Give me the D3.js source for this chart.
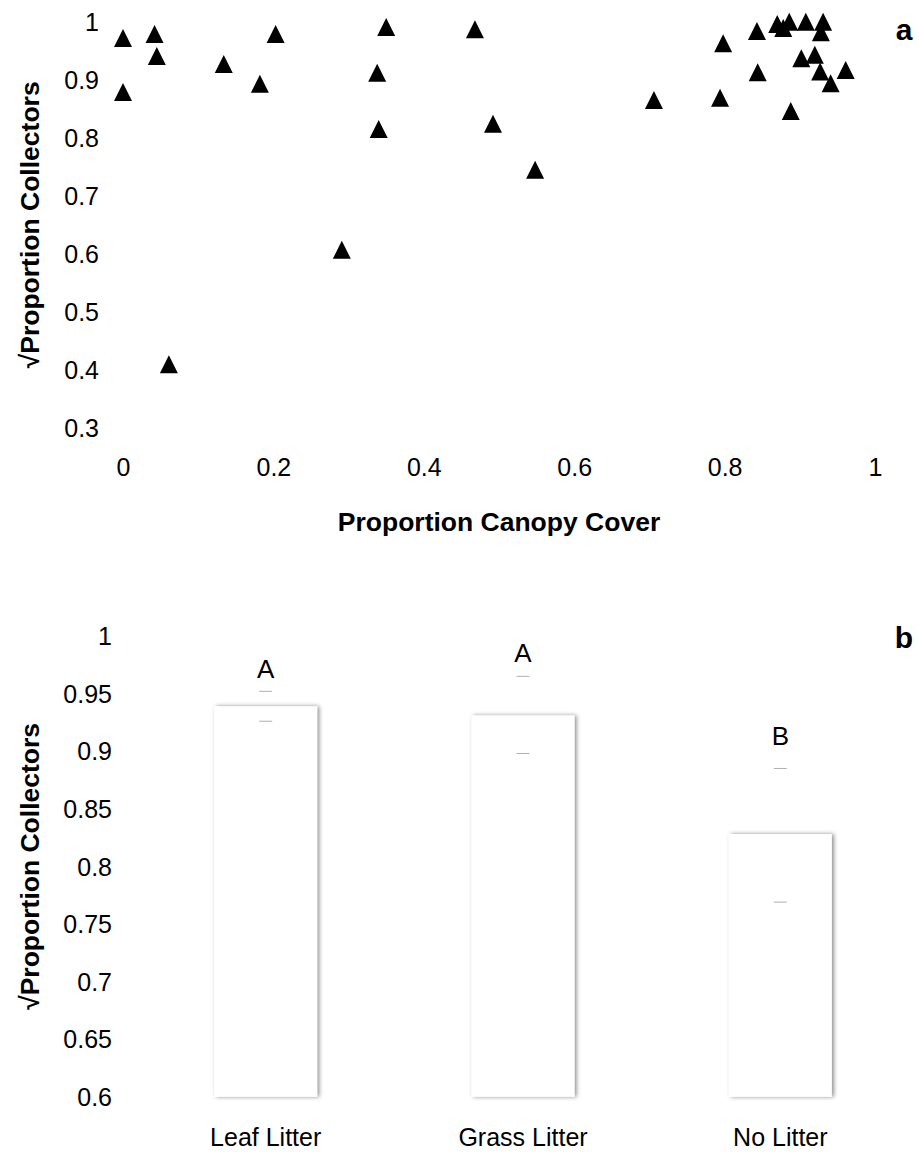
<!DOCTYPE html>
<html>
<head>
<meta charset="utf-8">
<script src="https://cdn.jsdelivr.net/npm/d3@7"></script>
<style>
  body { margin: 0; background: #fff; }
  text { font-family: "Liberation Sans", Arial, sans-serif; fill: #000; }
</style>
</head>
<body>
<div id="chart"></div>
<script>
/* PANEL A: collectors vs canopy cover */
const canopyCover = [0, 0.042, 0.045, 0.134, 0.203, 0.182, 0, 0.350, 0.338, 0.468, 0.340, 0.492,
    0.548, 0.291, 0.061, 0.706, 0.794, 0.798, 0.844, 0.843, 0.870, 0.886, 0.878, 0.908,
    0.931, 0.928, 0.902, 0.920, 0.927, 0.961, 0.941, 0.888];
const sqrtCollectorsA = [0.972, 0.979, 0.941, 0.927, 0.979, 0.893, 0.879, 0.991, 0.912, 0.987, 0.815, 0.824,
    0.745, 0.607, 0.410, 0.865, 0.869, 0.963, 0.913, 0.984, 0.996, 1.0, 0.989, 1.0,
    1.0, 0.982, 0.937, 0.943, 0.914, 0.917, 0.894, 0.846];
const xTicksA = [0, 0.2, 0.4, 0.6, 0.8, 1];
const yTicksA = [0.3, 0.4, 0.5, 0.6, 0.7, 0.8, 0.9, 1];

/* PANEL B: collectors by litter type */
const litterTypes = ["Leaf Litter", "Grass Litter", "No Litter"];
const litterMeans = [0.939, 0.931, 0.828];
const litterUpper = [0.952, 0.965, 0.885];
const litterLower = [0.926, 0.898, 0.769];
const litterGroups = ["A", "A", "B"];
const yTicksB = [0.6, 0.65, 0.7, 0.75, 0.8, 0.85, 0.9, 0.95, 1];

const width = 919, height = 1152;
const tickFont = 25, titleFont = 26.5;
const fmt = d => String(+d.toFixed(2));

const svg = d3.select("#chart")
    .append("svg")
    .attr("width", width)
    .attr("height", height);

const defs = svg.append("defs");
defs.append("filter")
    .attr("id", "barShadow")
    .attr("x", "-10%").attr("y", "-10%")
    .attr("width", "125%").attr("height", "120%")
    .append("feDropShadow")
    .attr("dx", 2).attr("dy", 0)
    .attr("stdDeviation", 2)
    .attr("flood-color", "#000")
    .attr("flood-opacity", 0.45);

// ---- panel a ----
const xA = d3.scaleLinear().domain([0, 1]).range([123, 875]);
const yA = d3.scaleLinear().domain([0.3, 1]).range([428, 21.7]);

const axisA_y = svg.append("g")
    .attr("transform", `translate(${xA(0)},0)`)
    .call(d3.axisLeft(yA).tickValues(yTicksA).tickFormat(fmt).tickSize(0).tickPadding(24));
axisA_y.select(".domain").remove();
axisA_y.selectAll("text").attr("font-size", tickFont).attr("dy", "0.35em");

const axisA_x = svg.append("g")
    .attr("transform", `translate(0,${yA(0.3)})`)
    .call(d3.axisBottom(xA).tickValues(xTicksA).tickFormat(fmt).tickSize(0).tickPadding(30));
axisA_x.select(".domain").remove();
axisA_x.selectAll("text").attr("font-size", tickFont);

const triangle = "M0,-9L9,9L-9,9Z";
svg.append("g").selectAll("path")
    .data(canopyCover.map((c, i) => ({x: c, y: sqrtCollectorsA[i]})))
    .enter()
    .append("path")
    .attr("d", triangle)
    .attr("fill", "#000")
    .attr("transform", d => `translate(${xA(d.x)},${yA(d.y)})`);

svg.append("text")
    .attr("transform", `translate(30,${(yA(1) + yA(0.3)) / 2}) rotate(-90)`)
    .attr("text-anchor", "middle")
    .attr("dy", "0.35em")
    .attr("font-size", titleFont)
    .attr("font-weight", "bold")
    .text("√Proportion Collectors");

svg.append("text")
    .attr("x", (xA(0) + xA(1)) / 2)
    .attr("y", 522)
    .attr("text-anchor", "middle")
    .attr("dy", "0.35em")
    .attr("font-size", titleFont)
    .attr("font-weight", "bold")
    .text("Proportion Canopy Cover");

svg.append("text")
    .attr("x", 904).attr("y", 29)
    .attr("text-anchor", "middle")
    .attr("dy", "0.35em")
    .attr("font-size", 30)
    .attr("font-weight", "bold")
    .text("a");

// ---- panel b ----
const xB = d3.scaleBand().domain(litterTypes).range([137, 909]).paddingInner(0.6).paddingOuter(0.3);
const yB = d3.scaleLinear().domain([0.6, 1]).range([1096.8, 636]);

const axisB_y = svg.append("g")
    .attr("transform", `translate(137,0)`)
    .call(d3.axisLeft(yB).tickValues(yTicksB).tickFormat(fmt).tickSize(0).tickPadding(25));
axisB_y.select(".domain").remove();
axisB_y.selectAll("text").attr("font-size", tickFont).attr("dy", "0.35em");

const axisB_x = svg.append("g")
    .attr("transform", `translate(0,${yB(0.6)})`)
    .call(d3.axisBottom(xB).tickSize(0).tickPadding(31));
axisB_x.select(".domain").remove();
axisB_x.selectAll("text").attr("font-size", tickFont);

const barData = litterTypes.map((t, i) => ({
    type: t, mean: litterMeans[i], hi: litterUpper[i], lo: litterLower[i], group: litterGroups[i]
}));

svg.append("g").selectAll("rect")
    .data(barData)
    .enter()
    .append("rect")
    .attr("x", d => xB(d.type))
    .attr("y", d => yB(d.mean))
    .attr("width", xB.bandwidth())
    .attr("height", d => yB(0.6) - yB(d.mean))
    .attr("fill", "#fff")
    .attr("filter", "url(#barShadow)");

// error bar caps (the stems are white in the original)
const capHalf = 6.5;
const caps = svg.append("g");
barData.forEach(d => {
    const cx = xB(d.type) + xB.bandwidth() / 2;
    [d.hi, d.lo].forEach(v => {
        caps.append("line")
            .attr("x1", cx - capHalf).attr("x2", cx + capHalf)
            .attr("y1", yB(v)).attr("y2", yB(v))
            .attr("stroke", "#b0b0b0")
            .attr("stroke-width", 1);
    });
});

// significance letters, nudged above the upper cap
const letterGap = [22, 23, 33];
svg.append("g").selectAll("text")
    .data(barData)
    .enter()
    .append("text")
    .attr("x", d => xB(d.type) + xB.bandwidth() / 2)
    .attr("y", (d, i) => yB(d.hi) - letterGap[i])
    .attr("text-anchor", "middle")
    .attr("dy", "0.35em")
    .attr("font-size", 26)
    .text(d => d.group);

svg.append("text")
    .attr("transform", `translate(30,${(yB(1) + yB(0.6)) / 2}) rotate(-90)`)
    .attr("text-anchor", "middle")
    .attr("dy", "0.35em")
    .attr("font-size", titleFont)
    .attr("font-weight", "bold")
    .text("√Proportion Collectors");

svg.append("text")
    .attr("x", 904).attr("y", 637)
    .attr("text-anchor", "middle")
    .attr("dy", "0.35em")
    .attr("font-size", 30)
    .attr("font-weight", "bold")
    .text("b");
</script>
</body>
</html>
